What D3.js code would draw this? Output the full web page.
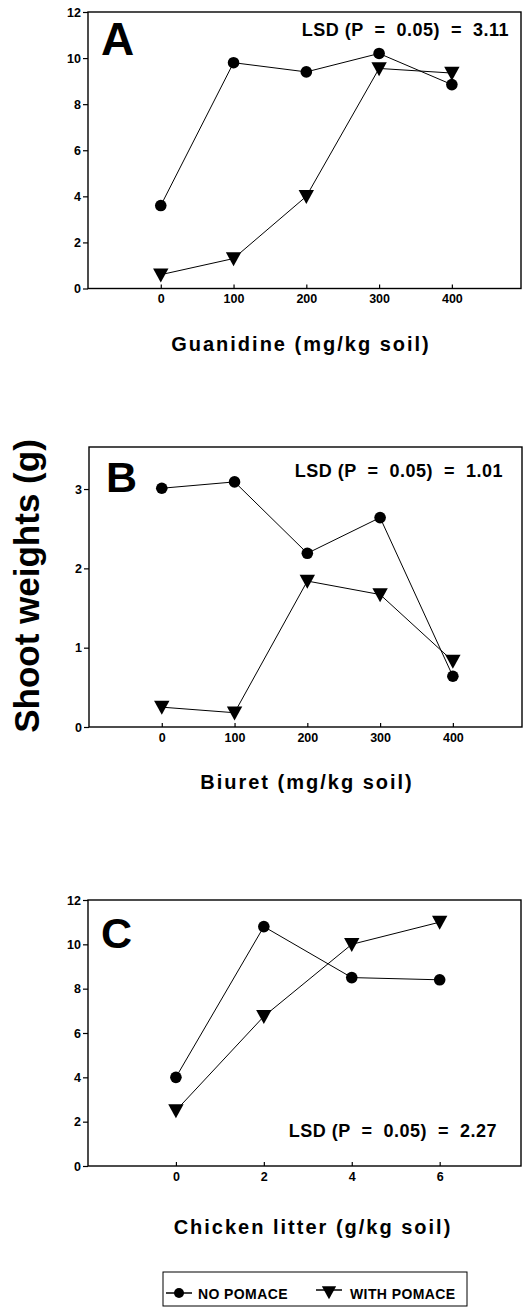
<!DOCTYPE html>
<html><head><meta charset="utf-8">
<script src="https://cdn.jsdelivr.net/npm/d3@7"></script>
<style>
html,body{margin:0;padding:0;background:#fff;}
svg{display:block;font-family:"Liberation Sans",Arial,Helvetica,sans-serif;}
</style></head>
<body>
<script>
// ---- data ----
const xA = [0, 100, 200, 300, 400];
const noPomaceA = [3.6, 9.8, 9.4, 10.2, 8.85];
const withPomaceA = [0.6, 1.3, 4.0, 9.55, 9.35];
const xB = [0, 100, 200, 300, 400];
const noPomaceB = [3.01, 3.09, 2.19, 2.64, 0.64];
const withPomaceB = [0.25, 0.18, 1.84, 1.67, 0.83];
const xC = [0, 2, 4, 6];
const noPomaceC = [4.0, 10.8, 8.5, 8.4];
const withPomaceC = [2.5, 6.75, 10.0, 11.0];
const ticksXA = [0, 100, 200, 300, 400];
const ticksYA = [0, 2, 4, 6, 8, 10, 12];
const ticksXB = [0, 100, 200, 300, 400];
const ticksYB = [0, 1, 2, 3];
const ticksXC = [0, 2, 4, 6];
const ticksYC = [0, 2, 4, 6, 8, 10, 12];
const panelLetters = ["A", "B", "C"];
const lsdTexts = ["LSD (P  =  0.05)  =  3.11", "LSD (P  =  0.05)  =  1.01", "LSD (P  =  0.05)  =  2.27"];
const xTitles = ["Guanidine (mg/kg soil)", "Biuret (mg/kg soil)", "Chicken litter (g/kg soil)"];
const yTitle = "Shoot weights (g)";
const legendLabels = ["NO POMACE", "WITH POMACE"];

const W = 532, H = 1311;
const svg = d3.select("body").append("svg").attr("width", W).attr("height", H);

const panels = [
  {x: xA, s1: noPomaceA, s2: withPomaceA, xd: [-100, 495], yd: [0, 12], xr: [88, 521], yr: [288.5, 12],
   tx: ticksXA, ty: ticksYA, letter: {x: 101, y: 55, size: 46}, lsd: {x: 509, y: 36}, title: {x: 301, y: 351}},
  {x: xB, s1: noPomaceB, s2: withPomaceB, xd: [-100, 495], yd: [0, 3.53], xr: [89, 522], yr: [727, 447],
   tx: ticksXB, ty: ticksYB, letter: {x: 106, y: 492, size: 43}, lsd: {x: 503, y: 477}, title: {x: 307, y: 789}},
  {x: xC, s1: noPomaceC, s2: withPomaceC, xd: [-2, 7.85], yd: [0, 12], xr: [88, 521], yr: [1166, 900],
   tx: ticksXC, ty: ticksYC, letter: {x: 101, y: 948, size: 43}, lsd: {x: 497, y: 1137}, title: {x: 313, y: 1234}}
];

function tri(g, cx, cy, s) {
  g.append("path")
    .attr("d", `M${cx - s * 0.55},${cy - s * 0.45}L${cx + s * 0.55},${cy - s * 0.45}L${cx},${cy + s * 0.55}Z`)
    .attr("fill", "#000");
}

panels.forEach((p, i) => {
  const x = d3.scaleLinear().domain(p.xd).range(p.xr);
  const y = d3.scaleLinear().domain(p.yd).range(p.yr);
  const g = svg.append("g");

  // frame
  g.append("rect")
    .attr("x", p.xr[0]).attr("y", p.yr[1])
    .attr("width", p.xr[1] - p.xr[0]).attr("height", p.yr[0] - p.yr[1])
    .attr("fill", "none").attr("stroke", "#000").attr("stroke-width", 1.4);

  // y axis
  const ya = g.append("g").attr("transform", `translate(${p.xr[0]},0)`)
    .call(d3.axisLeft(y).tickValues(p.ty).tickSize(5).tickSizeOuter(0).tickPadding(2).tickFormat(d3.format("d")));
  ya.select(".domain").remove();
  ya.selectAll("line").attr("stroke-width", 1.2);
  ya.selectAll("text").attr("font-size", 12.5).attr("font-weight", "bold").attr("fill", "#000");

  // x axis
  const xa = g.append("g").attr("transform", `translate(0,${p.yr[0]})`)
    .call(d3.axisBottom(x).tickValues(p.tx).tickSize(-4).tickSizeOuter(0).tickPadding(6).tickFormat(d3.format("d")));
  xa.select(".domain").remove();
  xa.selectAll("line").attr("stroke-width", 1.2);
  xa.selectAll("text").attr("font-size", 12.5).attr("font-weight", "bold").attr("fill", "#000");

  const line = d3.line().x((d, j) => x(p.x[j])).y(d => y(d));
  g.append("path").datum(p.s1).attr("d", line).attr("fill", "none").attr("stroke", "#000").attr("stroke-width", 1);
  g.append("path").datum(p.s2).attr("d", line).attr("fill", "none").attr("stroke", "#000").attr("stroke-width", 1);

  p.s1.forEach((v, j) => {
    g.append("circle").attr("cx", x(p.x[j])).attr("cy", y(v)).attr("r", 5.8).attr("fill", "#000");
  });
  p.s2.forEach((v, j) => tri(g, x(p.x[j]), y(v), 14));

  // panel letter
  g.append("text").attr("x", p.letter.x).attr("y", p.letter.y)
    .attr("font-size", p.letter.size).attr("font-weight", "bold").text(panelLetters[i]);

  // LSD
  g.append("text").attr("x", p.lsd.x).attr("y", p.lsd.y).attr("text-anchor", "end")
    .attr("font-size", 18).attr("font-weight", "bold").attr("letter-spacing", 0.5)
    .style("white-space", "pre").text(lsdTexts[i]);

  // x title
  g.append("text").attr("x", p.title.x).attr("y", p.title.y).attr("text-anchor", "middle")
    .attr("font-size", 20).attr("font-weight", "bold").attr("letter-spacing", 2)
    .text(xTitles[i]);
});

// y title
svg.append("text").attr("transform", "translate(39,586) rotate(-90)")
  .attr("text-anchor", "middle").attr("font-size", 35).attr("font-weight", "bold").text(yTitle);

// legend
const lg = svg.append("g");
lg.append("rect").attr("x", 163).attr("y", 1272).attr("width", 304).attr("height", 34)
  .attr("fill", "none").attr("stroke", "#000").attr("stroke-width", 1);
const ly = 1293;
lg.append("line").attr("x1", 166).attr("x2", 192).attr("y1", ly).attr("y2", ly).attr("stroke", "#000").attr("stroke-width", 1.5);
lg.append("circle").attr("cx", 179).attr("cy", ly).attr("r", 5).attr("fill", "#000");
lg.append("text").attr("x", 198).attr("y", ly + 5.5).attr("font-size", 14).attr("font-weight", "bold")
  .attr("letter-spacing", 0.4).text(legendLabels[0]);
lg.append("line").attr("x1", 316).attr("x2", 342).attr("y1", ly - 3).attr("y2", ly - 3).attr("stroke", "#000").attr("stroke-width", 1.5);
tri(lg, 329, ly - 1, 13);
lg.append("text").attr("x", 350).attr("y", ly + 5.5).attr("font-size", 14).attr("font-weight", "bold")
  .attr("letter-spacing", 0.4).text(legendLabels[1]);
</script>
</body></html>
